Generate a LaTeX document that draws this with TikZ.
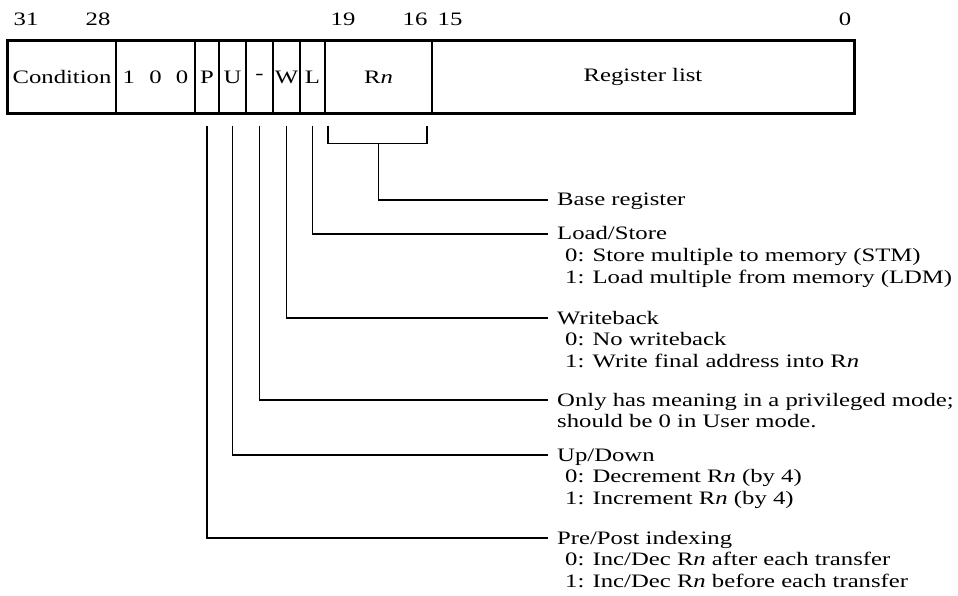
\documentclass[tikz,border=0pt]{standalone}
\usepackage{fontspec}
\setmainfont{Liberation Serif}[FakeStretch=1.3]
\usetikzlibrary{calc}
\begin{document}
\begin{tikzpicture}[x=1pt,y=-1pt,
  every node/.style={font=\fontsize{19}{21.5}\selectfont, inner sep=0pt},
  field/.style={draw, line width=1.6pt, minimum height=72pt},
  bitnum/.style={anchor=base},
  lbl/.style={anchor=base west},
  conn/.style={line width=1.3pt}]
\useasboundingbox (0,0) rectangle (958,596);
% fields
\node[field, minimum width=108pt] (cond) at (62,77) {Condition};
\node[field, minimum width=79pt]  (hund) at (155.5,77) {1\hspace{0.75em}0\hspace{0.75em}0};
\node[field, minimum width=24pt]  (P)    at (207,77) {P};
\node[field, minimum width=27pt]  (U)    at (232.5,77) {U};
\node[field, minimum width=27pt]  (S)    at (259.5,77) {-};
\node[field, minimum width=27pt]  (W)    at (286.5,77) {W};
\node[field, minimum width=25pt]  (L)    at (312.5,77) {L};
\node[field, minimum width=107pt] (Rn)   at (378.5,77) {R\textit{n}};
\node[field, minimum width=422pt] (reg)  at (643,77) {Register list};
\draw[line width=2.6pt] (cond.north west) rectangle (reg.south east);
% bit numbers
\node[bitnum] (b31) at (26,26) {31};
\node[bitnum] (b28) at (98,26) {28};
\node[bitnum] (b19) at (343,26) {19};
\node[bitnum] (b16) at (415,26) {16};
\node[bitnum] (b15) at (450,26) {15};
\node[bitnum] (b0)  at (845,26) {0};
% labels
\node[lbl] (bas) at (557,206) {Base register};
\node[lbl] (ls)  at (557,240) {Load/Store};
\node[lbl] (ls0) at (565,261.5) {0: Store multiple to memory (STM)};
\node[lbl] (ls1) at (565,283) {1: Load multiple from memory (LDM)};
\node[lbl] (wb)  at (557,324) {Writeback};
\node[lbl] (wb0) at (565,345.5) {0: No writeback};
\node[lbl] (wb1) at (565,367) {1: Write final address into R\textit{n}};
\node[lbl] (on)  at (557,406) {Only has meaning in a privileged mode;};
\node[lbl] (on2) at (557,427.5) {should be 0 in User mode.};
\node[lbl] (ud)  at (557,461) {Up/Down};
\node[lbl] (ud0) at (565,482.5) {0: Decrement R\textit{n} (by 4)};
\node[lbl] (ud1) at (565,504) {1: Increment R\textit{n} (by 4)};
\node[lbl] (pp)  at (557,544) {Pre/Post indexing};
\node[lbl] (pp0) at (565,565.5) {0: Inc/Dec R\textit{n} after each transfer};
\node[lbl] (pp1) at (565,587) {1: Inc/Dec R\textit{n} before each transfer};
% connectors
\draw[conn] ($(Rn.south)+(-50.5,12)$) -- ($(Rn.south)+(-50.5,30)$) -- ($(Rn.south)+(48.5,30)$) -- ($(Rn.south)+(48.5,12)$);
\coordinate (brk) at ($(Rn.south)+(0,30)$);
\draw[conn] (brk) |- ($(bas.base west)+(-9,-6)$);
\draw[conn] ($(L.south)+(0,12)$) |- ($(ls.base west)+(-9,-6)$);
\draw[conn] ($(W.south)+(0,12)$) |- ($(wb.base west)+(-9,-6)$);
\draw[conn] ($(S.south)+(0,12)$) |- ($(on.base west)+(-9,-6)$);
\draw[conn] ($(U.south)+(0,12)$) |- ($(ud.base west)+(-9,-6)$);
\draw[conn] ($(P.south)+(0,12)$) |- ($(pp.base west)+(-9,-6)$);
\end{tikzpicture}
\end{document}
